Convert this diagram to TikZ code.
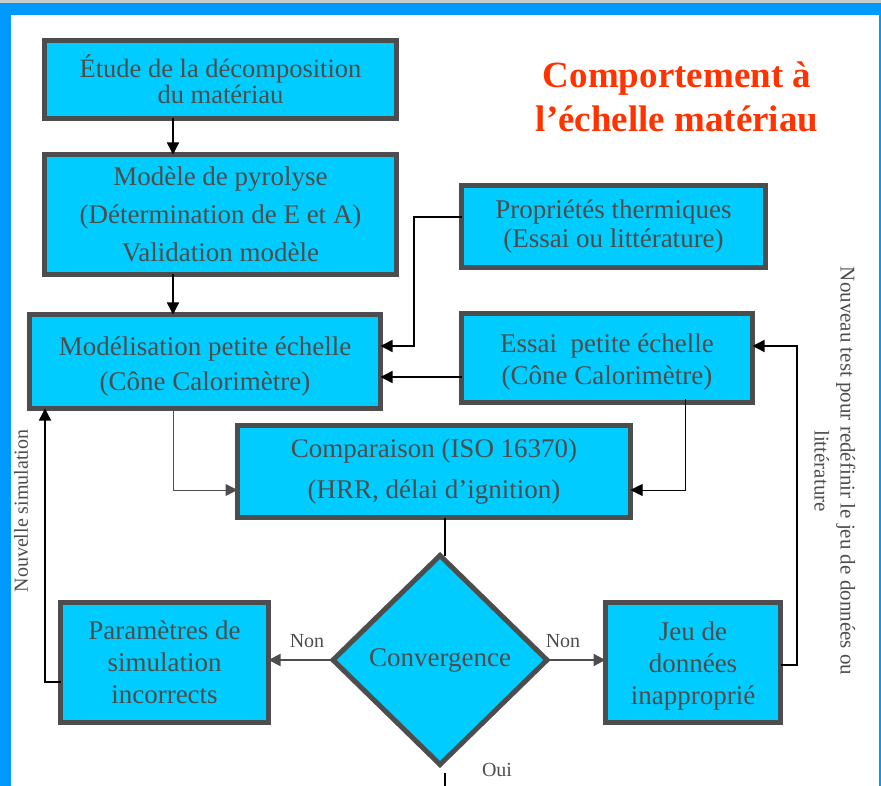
\documentclass[tikz,border=0pt]{standalone}
\usepackage{fontspec}
\setmainfont{Liberation Serif}
\usetikzlibrary{arrows.meta,shapes.geometric}
\definecolor{frameblue}{HTML}{0099FF}
\definecolor{boxfill}{HTML}{00CCFF}
\definecolor{boxline}{HTML}{4D4D4D}
\definecolor{txtgray}{HTML}{4D4D4D}
\definecolor{titlered}{HTML}{FF3300}
\begin{document}
\begin{tikzpicture}[x=1pt,y=-1pt,
  bx/.style={draw=boxline,line width=5pt,fill=boxfill,text=txtgray,align=center,
    inner sep=0pt,outer sep=0pt},
  dia/.style={diamond,draw=boxline,line width=5pt,fill=boxfill,text=txtgray,
    inner sep=0pt,outer sep=0pt,aspect=1},
  conn/.style={line width=1.4pt,-{Triangle[length=12pt,width=12pt]}},
  gconn/.style={conn,draw=boxline,color=boxline},
  lbl/.style={text=txtgray,font=\fontsize{20}{22}\selectfont,inner sep=0pt}]
\useasboundingbox (0,0) rectangle (881,786);
% frame
\fill[black!20] (0,0) rectangle (881,3);
\fill[frameblue] (0,3) rectangle (881,15);
\fill[frameblue] (0,3) rectangle (11,786);
\fill[frameblue] (879,3) rectangle (881,786);
% title
\node[text=titlered,font=\fontsize{37}{44}\selectfont\bfseries,align=center] (title) at (677,97)
  {Comportement à\\l’échelle matériau};
% boxes
\node[bx,minimum width=352,minimum height=78,font=\fontsize{26.5}{26}\selectfont] (b1) at (220.5,79.5)
  {Étude de la décomposition\\du matériau};
\node[bx,minimum width=352,minimum height=120,font=\fontsize{27}{38}\selectfont] (b2) at (220.5,214.5)
  {Modèle de pyrolyse\\(Détermination de E et A)\\Validation modèle};
\node[bx,minimum width=304,minimum height=82,font=\fontsize{27}{29}\selectfont] (b3) at (613.5,226.5)
  {Propriétés thermiques\\(Essai ou littérature)};
\node[bx,minimum width=351,minimum height=94,font=\fontsize{27}{35}\selectfont] (b4) at (205,361.5)
  {\rule{0pt}{28pt}Modélisation petite échelle\\(Cône Calorimètre)};
\node[bx,minimum width=291,minimum height=89,font=\fontsize{27}{32}\selectfont] (b5) at (607,358)
  {\rule{0pt}{26.5pt}Essai\ \ petite échelle\\(Cône Calorimètre)};
\node[bx,minimum width=393,minimum height=92,font=\fontsize{27}{41}\selectfont] (b6) at (434,471.5)
  {Comparaison (ISO 16370)\\(HRR, délai d’ignition)};
\node[dia,minimum width=214,minimum height=209,font=\fontsize{27}{30}\selectfont] (d) at (440,660)
  {Convergence};
\node[bx,minimum width=208,minimum height=120,font=\fontsize{27}{32}\selectfont] (b7) at (164.5,662.5)
  {Paramètres de\\simulation\\incorrects};
\node[bx,minimum width=175,minimum height=120,font=\fontsize{27}{32}\selectfont] (b8) at (693,662.5)
  {\rule{0pt}{26.5pt}Jeu de\\données\\inapproprié};
% coordinates
\coordinate (bot) at (445,786);
% connectors
\draw[conn] (b1.south -| 173,0) -- (b2.north -| 173,0);
\draw[conn] (b2.south -| 173,0) -- (b4.north -| 173,0);
\draw[conn] (b3.west |- 0,217) -| (414,346) -- (b4.east |- 0,346);
\draw[conn] (b5.west |- 0,377) -- (b4.east |- 0,377);
\draw[gconn,line width=1pt] (b4.south -| 173,0) |- (b6.west |- 0,490);
\draw[conn,line width=1pt] ([yshift=4pt]b5.south -| 685,0) |- (b6.east |- 0,490);
\draw[line width=1.4pt] (b6.south -| 445,0) -- (d.north -| 445,0);
\draw[gconn,line width=2pt] (d.west) -- (b7.east |- d.west);
\draw[gconn,line width=2pt] (d.east) -- (b8.west |- d.east);
\draw[conn] (b8.east |- 0,665) -| (797,346) -- (b5.east |- 0,346);
\draw[conn] (b7.west |- 0,682) -| (45,411) -- (b4.south -| 45,0);
\draw[line width=1.4pt] ([yshift=-8pt]d.south -| 445,0) -- (bot);
% labels
\node[lbl] (non1) at (307,641) {Non};
\node[lbl] (non2) at (563,641) {Non};
\node[lbl] (oui) at (497,770) {Oui};
\node[lbl,rotate=90] (nsim) at (21,511) {Nouvelle simulation};
\node[lbl,rotate=-90,align=center,font=\fontsize{21}{26}\selectfont] (ntest) at (835,471)
  {Nouveau test pour redéfinir le jeu de données ou\\littérature};
\end{tikzpicture}
\end{document}
